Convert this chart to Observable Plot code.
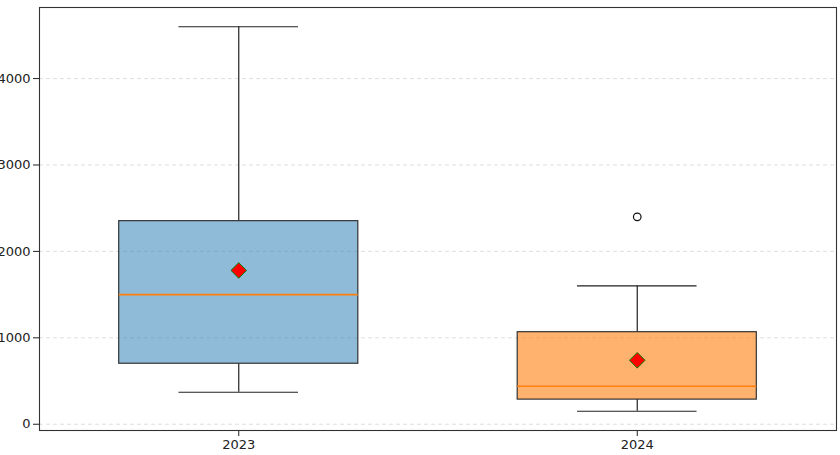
<!DOCTYPE html>
<html>
<head>
<meta charset="utf-8">
<script src="https://cdn.jsdelivr.net/npm/d3@7"></script>
<script src="https://cdn.jsdelivr.net/npm/@observablehq/plot@0.6"></script>
<style>
  html, body { margin: 0; padding: 0; background: white; }
</style>
</head>
<body>
<div id="chart"></div>
<script>
const years = ["2023", "2024"];
const positions = [1, 2];
const q1 = [700, 285];
const median = [1500, 440];
const q3 = [2350, 1065];
const whiskerLow = [370, 150];
const whiskerHigh = [4600, 1600];
const means = [1780, 740];
const boxColors = ["#1f77b4", "#ff7f0e"];
const boxOpacity = [0.5, 0.6];
const outliers = [{pos: 2, value: 2400}];
const yTicks = [0, 1000, 2000, 3000, 4000];

const boxes = years.map((y, i) => ({
  year: y, pos: positions[i], q1: q1[i], median: median[i], q3: q3[i],
  lo: whiskerLow[i], hi: whiskerHigh[i], mean: means[i],
  color: boxColors[i], opacity: boxOpacity[i]
}));

const halfBox = 0.3, halfCap = 0.15;

const chart = Plot.plot({
  width: 840,
  height: 455,
  marginLeft: 39,
  marginRight: 4,
  marginTop: 7,
  marginBottom: 25,
  style: {fontFamily: "DejaVu Sans", fontSize: "13px", color: "#222", background: "white"},
  x: {domain: [0.5, 2.5], axis: null},
  y: {domain: [-72.5, 4822.5], axis: null},
  marks: [
    Plot.gridY(yTicks, {stroke: "#bbb", strokeOpacity: 0.6, strokeDasharray: "4,3", strokeWidth: 0.8}),
    Plot.axisY(yTicks, {tickSize: 6, tickPadding: 3, stroke: "#222", fill: "#222", fontSize: 13, label: null,
      tickFormat: d3.format("d")}),
    Plot.axisX(positions, {tickSize: 6, tickPadding: 3, stroke: "#222", fill: "#222", fontSize: 13, label: null,
      tickFormat: d => years[positions.indexOf(d)]}),
    // whiskers
    Plot.ruleX(boxes, {x: "pos", y1: "q3", y2: "hi", stroke: "#222", strokeWidth: 1.2}),
    Plot.ruleX(boxes, {x: "pos", y1: "lo", y2: "q1", stroke: "#222", strokeWidth: 1.2}),
    Plot.ruleY(boxes, {y: "hi", x1: d => d.pos - halfCap, x2: d => d.pos + halfCap, stroke: "#222", strokeWidth: 1.2}),
    Plot.ruleY(boxes, {y: "lo", x1: d => d.pos - halfCap, x2: d => d.pos + halfCap, stroke: "#222", strokeWidth: 1.2}),
    // boxes
    Plot.rect(boxes, {x1: d => d.pos - halfBox, x2: d => d.pos + halfBox, y1: "q1", y2: "q3",
      fill: "color", fillOpacity: "opacity", stroke: "#333", strokeWidth: 1.2}),
    Plot.ruleY(boxes, {y: "median", x1: d => d.pos - halfBox, x2: d => d.pos + halfBox, stroke: "#ff7f0e", strokeWidth: 1.6}),
    // means
    Plot.dot(boxes, {x: "pos", y: "mean", symbol: "diamond2", r: 7, fill: "red", stroke: "green", strokeWidth: 1}),
    // outliers
    Plot.dot(outliers, {x: "pos", y: "value", r: 3.8, fill: "none", stroke: "#111", strokeWidth: 1.2}),
    Plot.frame({stroke: "#333", strokeWidth: 1.1})
  ]
});
document.getElementById("chart").appendChild(chart);
</script>
</body>
</html>
